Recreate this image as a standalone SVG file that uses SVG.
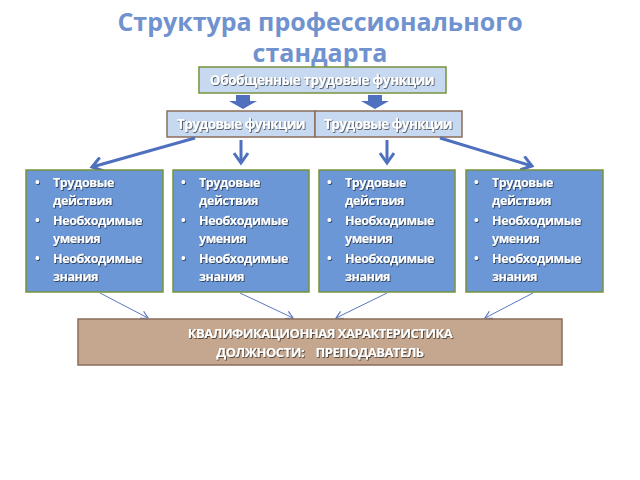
<svg xmlns="http://www.w3.org/2000/svg" width="640" height="480" viewBox="0 0 640 480">
<defs>
<filter id="sh" x="-10%" y="-30%" width="120%" height="160%"><feDropShadow dx="0.8" dy="0.8" stdDeviation="0.6" flood-color="#000" flood-opacity="0.7"/></filter>
<marker id="open" markerWidth="10" markerHeight="10" refX="8" refY="5" orient="auto" markerUnits="userSpaceOnUse"><path d="M1,1 L8,5 L1,9" fill="none" stroke="#5a78c0" stroke-width="1.2"/></marker>
<marker id="big" markerWidth="16" markerHeight="16" refX="12" refY="8" orient="auto" markerUnits="userSpaceOnUse"><path d="M2,1 L12,8 L2,15" fill="none" stroke="#4f6fbf" stroke-width="3"/></marker>
</defs>
<style>
.t{font-family:"Open Sans","Liberation Sans",sans-serif;font-weight:bold;fill:#fff;filter:url(#sh)}
.b{font-size:12.5px;letter-spacing:-0.4px}
.blue{fill:#6b97d6;stroke:#77933c;stroke-width:1.5}
.lb{fill:#c6d9f1}
</style>
<text x="320" y="31" text-anchor="middle" font-family="'Open Sans','Liberation Sans',sans-serif" font-weight="bold" font-size="25" fill="#7092cf">Структура профессионального</text>
<text x="320" y="62" text-anchor="middle" font-family="'Open Sans','Liberation Sans',sans-serif" font-weight="bold" font-size="25" fill="#7092cf">стандарта</text>
<g id="top"><rect x="199" y="67" width="247" height="26" class="lb" stroke="#77933c" stroke-width="1.5"/><text x="322" y="85" text-anchor="middle" class="t" font-size="13.5" letter-spacing="-0.4">Обобщенные трудовые функции</text></g>
<g id="f1"><rect x="167" y="111" width="148" height="26" class="lb" stroke="#8b6d5a" stroke-width="1.5"/><text x="241" y="129" text-anchor="middle" class="t" font-size="13.5" letter-spacing="-0.6">Трудовые функции</text></g>
<g id="f2"><rect x="315" y="111" width="147" height="26" class="lb" stroke="#8b6d5a" stroke-width="1.5"/><text x="388" y="129" text-anchor="middle" class="t" font-size="13.5" letter-spacing="-0.6">Трудовые функции</text></g>
<g id="connectors">
<path d="M236,95 h14 v6 h7 l-14,8 l-14,-8 h7z" fill="#4f6fbf"/>
<path d="M368,95 h14 v6 h7 l-14,8 l-14,-8 h7z" fill="#4f6fbf"/>
<g stroke="#4f6fbf" stroke-width="3" fill="none" marker-end="url(#big)">
<line x1="195" y1="138" x2="92" y2="167"/>
<line x1="241" y1="140" x2="241" y2="163"/>
<line x1="387" y1="140" x2="387" y2="163"/>
<line x1="440" y1="138" x2="532" y2="166"/>
</g>
<g stroke="#5a78c0" stroke-width="1" fill="none" marker-end="url(#open)">
<line x1="100" y1="293" x2="148" y2="318"/>
<line x1="240" y1="293" x2="293" y2="318"/>
<line x1="387" y1="293" x2="336" y2="318"/>
<line x1="533" y1="293" x2="485" y2="318"/>
</g>
</g>
<g id="n1"><rect x="26" y="170" width="137" height="122" class="blue"/>
<g class="t b"><text x="35" y="187">•</text><text x="53" y="187">Трудовые</text><text x="53" y="205">действия</text><text x="35" y="225">•</text><text x="53" y="225">Необходимые</text><text x="53" y="243">умения</text><text x="35" y="263">•</text><text x="53" y="263">Необходимые</text><text x="53" y="281">знания</text></g></g>
<g id="n2"><rect x="173" y="170" width="136" height="122" class="blue"/>
<g class="t b"><text x="181" y="187">•</text><text x="199" y="187">Трудовые</text><text x="199" y="205">действия</text><text x="181" y="225">•</text><text x="199" y="225">Необходимые</text><text x="199" y="243">умения</text><text x="181" y="263">•</text><text x="199" y="263">Необходимые</text><text x="199" y="281">знания</text></g></g>
<g id="n3"><rect x="319" y="170" width="136" height="122" class="blue"/>
<g class="t b"><text x="327" y="187">•</text><text x="345" y="187">Трудовые</text><text x="345" y="205">действия</text><text x="327" y="225">•</text><text x="345" y="225">Необходимые</text><text x="345" y="243">умения</text><text x="327" y="263">•</text><text x="345" y="263">Необходимые</text><text x="345" y="281">знания</text></g></g>
<g id="n4"><rect x="466" y="170" width="137" height="122" class="blue"/>
<g class="t b"><text x="474" y="187">•</text><text x="492" y="187">Трудовые</text><text x="492" y="205">действия</text><text x="474" y="225">•</text><text x="492" y="225">Необходимые</text><text x="492" y="243">умения</text><text x="474" y="263">•</text><text x="492" y="263">Необходимые</text><text x="492" y="281">знания</text></g></g>
<g id="bottom"><rect x="78" y="319" width="484" height="46" fill="#c4a78e" stroke="#8b6d5a" stroke-width="1.5"/>
<text x="320" y="338" text-anchor="middle" class="t" font-size="13" letter-spacing="-0.5">КВАЛИФИКАЦИОННАЯ ХАРАКТЕРИСТИКА</text>
<text x="320" y="357" text-anchor="middle" class="t" font-size="13" letter-spacing="-0.5" xml:space="preserve">ДОЛЖНОСТИ:    ПРЕПОДАВАТЕЛЬ</text></g>
</svg>
